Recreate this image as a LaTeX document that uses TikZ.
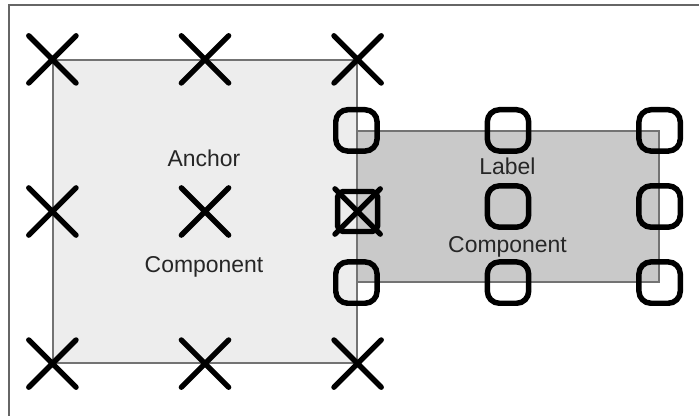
\documentclass[tikz,border=0pt]{standalone}
\usepackage{fontspec}
\setmainfont{Liberation Sans}
\usetikzlibrary{shapes.misc}
\begin{document}
\begin{tikzpicture}[x=0.75pt,y=-0.75pt,
  xmark/.style={cross out,draw=black,line width=4pt,line cap=round,minimum size=31.5pt,inner sep=0pt},
  rmark/.style={rectangle,draw=black,line width=4.1pt,rounded corners=9pt,minimum width=31pt,minimum height=31pt,inner sep=0pt},
  bmark/.style={rectangle,draw=black,line width=4pt,rounded corners=4pt,minimum size=30pt,inner sep=0pt},
  comp/.style={draw=black!55,line width=0.9pt},
  lbl/.style={font=\fontsize{17.2pt}{20pt}\selectfont,text=black!85,inner sep=0pt}]
\useasboundingbox (0,0) rectangle (699,416);
\fill[white] (0,0) rectangle (699,416);
% outer frame (top and left edges visible)
\coordinate (f0) at (9,5);
\coordinate (f1) at (699,5);
\coordinate (f2) at (9,416);
\draw[black!60,line width=1.1pt] (f1) -- (f0) -- (f2);
% anchor component
\node[comp,fill=black!7,minimum width=228pt,minimum height=227.25pt,inner sep=0pt] (A) at (205,211.5) {};
% label component
\node[comp,fill=black!21,minimum width=226.5pt,minimum height=113.25pt,inner sep=0pt] (L) at (508,206.5) {};
% texts
\node[lbl] (tA1) at (204,158) {Anchor};
\node[lbl] (tA2) at (204,267) {Component};
\node[lbl] (tL1) at (507.5,166) {Label};
\node[lbl] (tL2) at (507.5,247) {Component};
% X marks on anchor component
\node[xmark] (x1) at (A.north west) {};
\node[xmark] (x2) at (A.north) {};
\node[xmark] (x3) at (A.north east) {};
\node[xmark] (x4) at (A.west) {};
\node[xmark] (x5) at (A.center) {};
\node[xmark] (x7) at (A.south west) {};
\node[xmark] (x8) at (A.south) {};
\node[xmark] (x9) at (A.south east) {};
% rounded marks on label component
\node[rmark] (r1) at (L.north west) {};
\node[rmark] (r2) at (L.north) {};
\node[rmark] (r3) at (L.north east) {};
\node[rmark] (r5) at (L.center) {};
\node[rmark] (r6) at (L.east) {};
\node[rmark] (r7) at (L.south west) {};
\node[rmark] (r8) at (L.south) {};
\node[rmark] (r9) at (L.south east) {};
% coinciding anchor point
\node[bmark] (b6) at (A.east) {};
\node[cross out,draw=black,line width=4pt,line cap=round,minimum size=30pt,inner sep=0pt] (x6) at (A.east) {};
\end{tikzpicture}
\end{document}
